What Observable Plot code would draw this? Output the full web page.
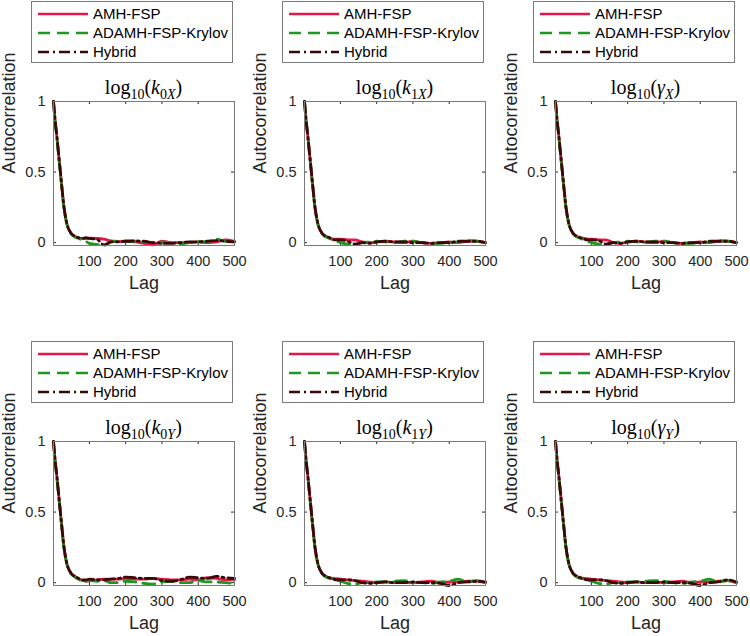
<!DOCTYPE html>
<html><head><meta charset="utf-8">
<script src="https://cdn.jsdelivr.net/npm/d3@7"></script>
<script src="https://cdn.jsdelivr.net/npm/@observablehq/plot@0.6"></script>
<style>
body{margin:0;background:#fff;}
#root{position:relative;width:750px;height:636px;overflow:hidden;font-family:"Liberation Sans",Arial,sans-serif;background:#fff;}
.panel{position:absolute;}
.legend{position:absolute;width:202px;height:62px;}
.title{position:absolute;font-family:"Liberation Serif","DejaVu Serif",serif;font-size:20px;color:#000;white-space:nowrap;transform:translate(-50%,-50%);line-height:1;}
.title .s{font-size:14px;position:relative;top:5px;}
</style></head>
<body><div id="root"></div>
<script>
// ---------- data ----------
const lags = [1,5,10,15,20,25,30,35,40,45,50,60,70,80,90,100,120,140,160,180,200,225,250,275,300,325,350,375,400,425,450,475,500];
const xTicks = [100,200,300,400,500];
const yTicks = [0,0.5,1];
const seriesNames = ["AMH-FSP","ADAMH-FSP-Krylov","Hybrid"];
const panelTitles = ["k0X","k1X","gX","k0Y","k1Y","gY"];

const k0X_AMH    = [1.00,0.88,0.76,0.63,0.50,0.37,0.25,0.17,0.115,0.085,0.065,0.045,0.035, 0.03,0.03,0.032,0.03,0.025,0.012,0.008,0.01,0.005,-0.005,-0.015,0.01,0.0,0.0,0.0,0.005,0.0,0.005,0.02,0.01];
const k0X_ADAMH  = [1.00,0.87,0.75,0.62,0.49,0.36,0.24,0.165,0.11,0.08,0.06,0.04,0.03, 0.02,0.01,-0.005,-0.012,-0.02,0.005,0.012,0.01,0.01,0.005,0.0,0.005,0.0,-0.01,0.0,0.01,0.005,0.025,0.01,0.0];
const k0X_Hybrid = [1.00,0.88,0.76,0.63,0.50,0.37,0.25,0.17,0.115,0.085,0.065,0.045,0.035, 0.03,0.035,0.03,0.025,-0.015,0.005,0.005,0.01,0.012,0.01,0.0,-0.005,-0.005,0.0,0.005,0.005,0.01,0.015,0.01,0.005];

const k1X_AMH    = [1.00,0.88,0.76,0.63,0.50,0.37,0.25,0.17,0.115,0.085,0.065,0.045,0.035, 0.025,0.025,0.025,0.02,0.02,0.005,0.0,0.005,0.01,0.005,0.0,0.01,0.0,-0.005,0.0,0.005,0.0,0.01,0.01,0.0];
const k1X_ADAMH  = [1.00,0.87,0.75,0.62,0.49,0.36,0.24,0.165,0.11,0.08,0.06,0.04,0.03, 0.02,0.01,0.0,-0.01,-0.015,0.0,0.005,0.01,0.005,0.0,0.01,0.01,0.0,-0.005,-0.005,0.0,0.005,0.015,0.01,0.0];
const k1X_Hybrid = [1.00,0.88,0.76,0.63,0.50,0.37,0.25,0.17,0.115,0.085,0.065,0.045,0.035, 0.02,0.02,0.02,0.01,-0.01,0.0,-0.005,0.005,0.01,0.005,0.005,0.0,0.0,-0.005,0.0,0.0,0.01,0.01,0.01,0.0];

const gX_AMH     = [1.00,0.88,0.76,0.63,0.50,0.37,0.25,0.17,0.115,0.085,0.065,0.045,0.035, 0.03,0.025,0.025,0.02,0.02,0.0,-0.005,0.005,0.01,0.005,0.0,0.01,0.0,-0.005,0.0,0.005,0.0,0.01,0.01,0.0];
const gX_ADAMH   = [1.00,0.87,0.75,0.62,0.49,0.36,0.24,0.165,0.11,0.08,0.06,0.04,0.03, 0.02,0.01,0.0,-0.01,-0.015,0.0,0.005,0.01,0.005,0.0,0.01,0.01,0.0,-0.005,-0.005,0.0,0.005,0.015,0.01,0.0];
const gX_Hybrid  = [1.00,0.88,0.76,0.63,0.50,0.37,0.25,0.17,0.115,0.085,0.065,0.045,0.035, 0.025,0.02,0.02,0.015,-0.01,0.0,-0.005,0.005,0.01,0.005,0.005,0.0,0.0,-0.005,0.0,0.0,0.01,0.01,0.01,0.0];

const k0Y_AMH    = [1.00,0.88,0.76,0.63,0.50,0.37,0.25,0.17,0.115,0.085,0.065,0.045,0.03, 0.015,0.01,0.015,0.02,0.025,0.025,0.025,0.03,0.025,0.025,0.03,0.025,0.02,0.02,0.025,0.02,0.035,0.03,0.02,0.02];
const k0Y_ADAMH  = [1.00,0.87,0.75,0.62,0.49,0.36,0.24,0.165,0.11,0.08,0.06,0.04,0.025, 0.01,0.01,0.015,0.01,0.015,0.0,0.0,0.01,0.005,-0.005,-0.01,0.005,0.01,0.0,0.0,0.015,0.005,0.005,0.0,-0.005];
const k0Y_Hybrid = [1.00,0.88,0.76,0.63,0.50,0.37,0.25,0.17,0.115,0.085,0.065,0.045,0.03, 0.02,0.02,0.025,0.02,0.02,0.025,0.03,0.04,0.035,0.03,0.03,0.015,0.01,0.02,0.04,0.035,0.03,0.045,0.035,0.03];

const k1Y_AMH    = [1.00,0.88,0.76,0.63,0.50,0.37,0.25,0.17,0.115,0.085,0.065,0.045,0.035, 0.03,0.028,0.025,0.02,0.015,0.01,0.005,0.0,0.005,0.0,0.005,0.0,0.005,0.01,0.0,0.005,0.005,0.01,0.01,0.0];
const k1Y_ADAMH  = [1.00,0.87,0.75,0.62,0.49,0.36,0.24,0.165,0.11,0.08,0.06,0.04,0.03, 0.025,0.02,0.01,-0.005,-0.01,0.0,0.0,0.005,0.005,0.01,0.015,0.005,0.0,-0.005,0.005,0.01,0.025,0.005,0.015,0.005];
const k1Y_Hybrid = [1.00,0.88,0.76,0.63,0.50,0.37,0.25,0.17,0.115,0.085,0.065,0.045,0.035, 0.025,0.02,0.02,0.02,0.015,0.0,-0.005,0.0,0.005,0.0,0.0,0.005,0.0,0.0,-0.005,-0.02,0.0,0.005,0.01,0.005];

const gY_AMH     = [1.00,0.88,0.76,0.63,0.50,0.37,0.25,0.17,0.115,0.085,0.065,0.045,0.035, 0.03,0.028,0.025,0.02,0.015,0.01,0.005,0.0,0.005,0.0,0.005,0.0,0.005,0.01,0.0,0.005,0.005,0.01,0.015,0.0];
const gY_ADAMH   = [1.00,0.87,0.75,0.62,0.49,0.36,0.24,0.165,0.11,0.08,0.06,0.04,0.03, 0.025,0.02,0.01,-0.005,-0.01,0.0,0.0,0.005,0.005,0.01,0.015,0.01,0.0,-0.005,0.005,0.01,0.025,0.005,0.015,0.005];
const gY_Hybrid  = [1.00,0.88,0.76,0.63,0.50,0.37,0.25,0.17,0.115,0.085,0.065,0.045,0.035, 0.025,0.02,0.02,0.02,0.015,0.0,-0.005,0.0,0.005,0.0,0.0,0.005,0.0,0.0,-0.005,-0.02,0.0,0.005,0.02,0.005];

const panelData = [
  [k0X_AMH,k0X_ADAMH,k0X_Hybrid],
  [k1X_AMH,k1X_ADAMH,k1X_Hybrid],
  [gX_AMH,gX_ADAMH,gX_Hybrid],
  [k0Y_AMH,k0Y_ADAMH,k0Y_Hybrid],
  [k1Y_AMH,k1Y_ADAMH,k1Y_Hybrid],
  [gY_AMH,gY_ADAMH,gY_Hybrid]
];

// ---------- style ----------
const colors = ["#e3174a","#1f961f","#3a0808"];
const dashes = [null,"12,7","11,4,2,4"];
const titleHTML = {
  k0X: 'log<span class="s">10</span>(<i>k</i><span class="s">0<i>X</i></span>)',
  k1X: 'log<span class="s">10</span>(<i>k</i><span class="s">1<i>X</i></span>)',
  gX:  'log<span class="s">10</span>(<i>γ</i><span class="s"><i>X</i></span>)',
  k0Y: 'log<span class="s">10</span>(<i>k</i><span class="s">0<i>Y</i></span>)',
  k1Y: 'log<span class="s">10</span>(<i>k</i><span class="s">1<i>Y</i></span>)',
  gY:  'log<span class="s">10</span>(<i>γ</i><span class="s"><i>Y</i></span>)'
};

const root = document.getElementById("root");
const colLeft = [0,251,502];
const rowTop = [70,410];
const legendTop = [1,341];
const W = 250, H = 240, mL = 53, mR = 16, mT = 31, mB = 65;
const boxW = W - mL - mR, boxH = H - mT - mB;
const axisColor = "#262626";

panelTitles.forEach((key, p) => {
  const c = p % 3, r = Math.floor(p / 3);
  const left = colLeft[c], top = rowTop[r];

  const marks = [
    Plot.axisX({ticks: xTicks, tickSize: 0, tickPadding: 10, label: null, fontSize: 14.5, tickFormat: d => String(d)}),
    Plot.axisY({ticks: yTicks, tickSize: 0, tickPadding: 8, label: null, fontSize: 14.5, tickFormat: d => String(d)}),
    Plot.tickX(xTicks, {x: d => d, insetTop: boxH - 3, stroke: axisColor}),
    Plot.tickX(xTicks, {x: d => d, insetBottom: boxH - 3, stroke: axisColor}),
    Plot.tickY(yTicks, {y: d => d, insetRight: boxW - 3, stroke: axisColor}),
    Plot.tickY(yTicks, {y: d => d, insetLeft: boxW - 3, stroke: axisColor})
  ];
  panelData[p].forEach((vals, s) => {
    const data = lags.map((l, i) => ({lag: l, v: vals[i]}));
    marks.push(Plot.line(data, {x: "lag", y: "v", stroke: colors[s], strokeWidth: 2.8,
      strokeDasharray: dashes[s] || undefined, curve: "monotone-x"}));
  });
  marks.push(Plot.frame({stroke: "#7a7a7a", strokeWidth: 1}));
  marks.push(Plot.text(["Autocorrelation"], {text: d => d, frameAnchor: "left", dx: -44, rotate: -90, fontSize: 18, fill: axisColor}));
  marks.push(Plot.text(["Lag"], {text: d => d, frameAnchor: "bottom", dy: 43, fontSize: 18, fill: axisColor}));

  const svg = Plot.plot({
    width: W, height: H,
    marginLeft: mL, marginRight: mR, marginTop: mT, marginBottom: mB,
    style: {fontFamily: '"Liberation Sans", Arial, sans-serif', fontSize: "14px", color: axisColor, background: "transparent", overflow: "visible"},
    x: {domain: [1, 500]},
    y: {domain: [-0.02, 1]},
    marks
  });
  svg.classList.add("panel");
  svg.style.position = "absolute";
  svg.style.left = left + "px";
  svg.style.top = top + "px";
  root.appendChild(svg);

  // title
  const t = document.createElement("div");
  t.className = "title";
  t.innerHTML = titleHTML[key];
  t.style.left = (left + mL + boxW / 2) + "px";
  t.style.top = (top + mT - 14) + "px";
  root.appendChild(t);

  // legend
  const lg = d3.create("svg").attr("width", 202).attr("height", 62)
    .attr("class", "legend")
    .style("left", (left + 31) + "px").style("top", legendTop[r] + "px");
  lg.append("rect").attr("x", 0.5).attr("y", 0.5).attr("width", 201).attr("height", 61)
    .attr("fill", "#fff").attr("stroke", "#7a7a7a");
  seriesNames.forEach((name, s) => {
    const yy = 13 + s * 19;
    lg.append("line").attr("x1", 7).attr("x2", 57).attr("y1", yy).attr("y2", yy)
      .attr("stroke", colors[s]).attr("stroke-width", 2.6)
      .attr("stroke-dasharray", dashes[s]);
    lg.append("text").attr("x", 62).attr("y", yy).attr("dy", "0.35em")
      .attr("font-family", '"Liberation Sans", Arial, sans-serif').attr("font-size", 15)
      .attr("fill", "#000").text(name);
  });
  root.appendChild(lg.node());
});
</script>
</body></html>
